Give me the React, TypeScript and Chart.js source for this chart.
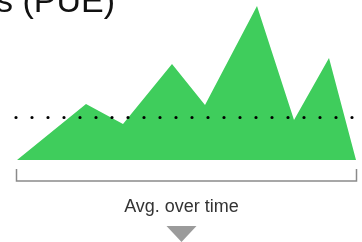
import React, { useEffect, useRef } from "react";
import { Chart, registerables } from "chart.js";

Chart.register(...registerables);

// Time positions (days from start) and PUE deviation values
const timePoints = [0, 69, 106, 155, 188, 240, 277, 312, 339];
const pueValues = [0, 56, 36, 96, 55, 154, 40, 102, 0];
const avgValue = 42.5;
const avgRange = [-1, 337];
const titleText = "s (PUE)";
const captionText = "Avg. over time";

const overlayPlugin = {
  id: "overlay",
  afterDraw(chart: any) {
    const { ctx, chartArea } = chart;
    ctx.save();
    // title (cropped)
    ctx.fillStyle = "#111";
    ctx.font = "34px 'Liberation Sans', Arial, sans-serif";
    ctx.textAlign = "right";
    ctx.textBaseline = "alphabetic";
    ctx.fillText(titleText, 115, 12);

    // bracket
    const l = chartArea.left - 0.5;
    const r = chartArea.right + 0.5;
    const by = chartArea.bottom + 21;
    ctx.strokeStyle = "#8a8a8a";
    ctx.lineWidth = 1.5;
    ctx.beginPath();
    ctx.moveTo(l, by - 12);
    ctx.lineTo(l, by);
    ctx.lineTo(r, by);
    ctx.lineTo(r, by - 12);
    ctx.stroke();

    // caption
    const cx = (chartArea.left + chartArea.right) / 2;
    ctx.fillStyle = "#333";
    ctx.font = "18px 'Liberation Sans', Arial, sans-serif";
    ctx.textAlign = "center";
    ctx.fillText(captionText, cx - 5, 212);

    // triangle
    ctx.fillStyle = "#9b9b9b";
    ctx.beginPath();
    ctx.moveTo(cx - 20, 226);
    ctx.lineTo(cx + 10, 226);
    ctx.lineTo(cx - 5, 242);
    ctx.closePath();
    ctx.fill();
    ctx.restore();
  },
};

export default function App() {
  const ref = useRef<HTMLCanvasElement | null>(null);
  useEffect(() => {
    if (!ref.current) return;
    const chart = new Chart(ref.current, {
      type: "line",
      data: {
        datasets: [
          {
            data: avgRange.map((x) => ({ x, y: avgValue })),
            borderColor: "#000",
            borderWidth: 3.2,
            borderDash: [0, 16],
            borderCapStyle: "round",
            pointRadius: 0,
            fill: false,
            clip: false,
            order: 0,
          },
          {
            data: timePoints.map((x, i) => ({ x, y: pueValues[i] })),
            backgroundColor: "#3fcd5c",
            borderWidth: 0,
            pointRadius: 0,
            fill: "origin",
            tension: 0,
            clip: false,
            order: 1,
          },
        ],
      } as any,
      options: {
        responsive: false,
        animation: false,
        layout: { padding: { left: 17, right: 6, top: 6, bottom: 82 } },
        plugins: { legend: { display: false }, tooltip: { enabled: false }, title: { display: false } },
        scales: {
          x: { type: "linear", display: false, min: 0, max: 339 },
          y: { type: "linear", display: false, min: 0, max: 154 },
        },
      } as any,
      plugins: [overlayPlugin],
    });
    return () => chart.destroy();
  }, []);
  return (
    <div style={{ position: "fixed", left: 0, top: 0, width: 362, height: 242, background: "#fff" }}>
      <canvas ref={ref} width={362} height={242} style={{ display: "block" }} />
    </div>
  );
}
